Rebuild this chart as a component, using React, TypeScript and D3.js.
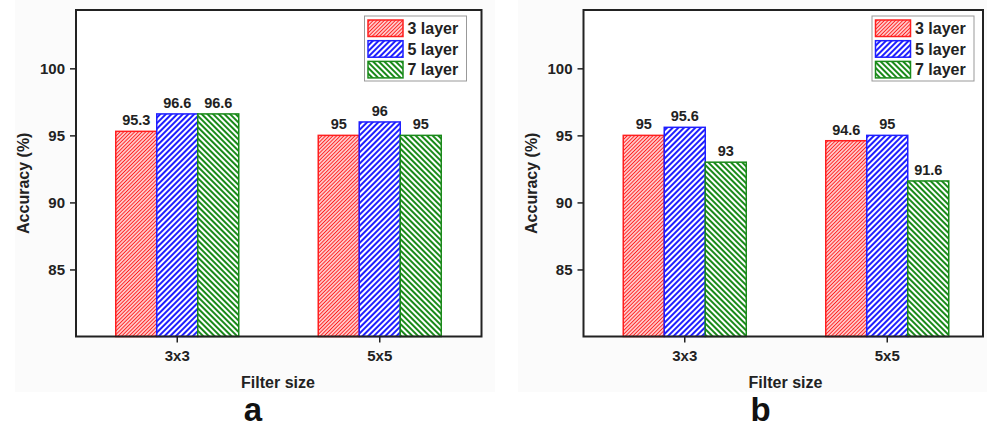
import React, { useEffect, useRef } from "react";
import * as d3 from "d3";

// filter sizes on x, one series per network depth
const categories = ["3x3", "5x5"];
const seriesNames = ["3 layer", "5 layer", "7 layer"];

// panel a
const accA3 = [95.3, 95];
const accA5 = [96.6, 96];
const accA7 = [96.6, 95];

// panel b
const accB3 = [95, 94.6];
const accB5 = [95.6, 95];
const accB7 = [93, 91.6];

const yTicks = [85, 90, 95, 100];
const panelLetters = ["a", "b"];

const colors = ["#ff1f1f", "#1f1fff", "#1a8a1a"];
const font = "'Liberation Sans', Arial, sans-serif";

const App: React.FC = () => {
  const svgRef = useRef<SVGSVGElement | null>(null);

  useEffect(() => {
    const width = 987;
    const height = 429;
    const svg = d3
      .select(svgRef.current)
      .attr("width", width)
      .attr("height", height)
      .attr("viewBox", [0, 0, width, height])
      .style("display", "block")
      .style("font-family", font);
    svg.selectAll("*").remove();

    const defs = svg.append("defs");
    // hatch patterns: red dense "/", blue wide "/", green wide "\"
    const hatch = [
      { id: "hatch0", size: 2.6, lw: 1.3, rot: 45 },
      { id: "hatch1", size: 4, lw: 2, rot: 45 },
      { id: "hatch2", size: 4, lw: 2, rot: -45 },
    ];
    hatch.forEach((h, i) => {
      const p = defs
        .append("pattern")
        .attr("id", h.id)
        .attr("patternUnits", "userSpaceOnUse")
        .attr("width", h.size)
        .attr("height", h.size)
        .attr("patternTransform", `rotate(${h.rot})`);
      p.append("rect").attr("width", h.size).attr("height", h.size).attr("fill", "#fff");
      p.append("line")
        .attr("x1", h.size / 2)
        .attr("x2", h.size / 2)
        .attr("y1", 0)
        .attr("y2", h.size)
        .attr("stroke", colors[i])
        .attr("stroke-width", h.lw);
    });

    const panels = [
      { left: 76, frameW: 405.5, bgX: 15, bgW: 480, data: [accA3, accA5, accA7] },
      { left: 583.5, frameW: 399.5, bgX: 518, bgW: 469, data: [accB3, accB5, accB7] },
    ];

    const top = 10;
    const bottom = 336.5;
    const y = d3.scaleLinear().domain([80, 104.35]).range([bottom, top]);

    panels.forEach((panel, pi) => {
      const g = svg.append("g");
      g.append("rect")
        .attr("x", panel.bgX)
        .attr("y", 0)
        .attr("width", panel.bgW)
        .attr("height", 392)
        .attr("fill", "#fbfbfb");

      const x = d3
        .scaleBand()
        .domain(categories)
        .range([panel.left, panel.left + 405])
        .padding(0);
      const inner = d3
        .scaleBand()
        .domain(seriesNames)
        .range([-61.5, 61.5])
        .padding(0);

      g.append("rect")
        .attr("x", panel.left)
        .attr("y", top)
        .attr("width", panel.frameW)
        .attr("height", bottom - top)
        .attr("fill", "#fff");

      // bars
      seriesNames.forEach((s, si) => {
        const vals = panel.data[si];
        const bars = g
          .append("g")
          .selectAll("g")
          .data(categories)
          .enter()
          .append("g");
        bars
          .append("rect")
          .attr("x", (c) => (x(c) as number) + x.bandwidth() / 2 + (inner(s) as number))
          .attr("y", (_, i) => y(vals[i]))
          .attr("width", inner.bandwidth())
          .attr("height", (_, i) => bottom - y(vals[i]))
          .attr("fill", `url(#hatch${si})`)
          .attr("stroke", colors[si])
          .attr("stroke-width", 1.5);
        bars
          .append("text")
          .attr("x", (c) => (x(c) as number) + x.bandwidth() / 2 + (inner(s) as number) + inner.bandwidth() / 2)
          .attr("y", (_, i) => y(vals[i]) - 6)
          .attr("text-anchor", "middle")
          .attr("font-size", 14.5)
          .attr("font-weight", "bold")
          .attr("fill", "#222")
          .text((_, i) => String(vals[i]));
      });

      // frame
      g.append("rect")
        .attr("x", panel.left)
        .attr("y", top)
        .attr("width", panel.frameW)
        .attr("height", bottom - top)
        .attr("fill", "none")
        .attr("stroke", "#222")
        .attr("stroke-width", 2);

      // y axis
      const gy = g
        .append("g")
        .attr("transform", `translate(${panel.left},0)`)
        .call(
          d3
            .axisLeft(y)
            .tickValues(yTicks)
            .tickSize(6)
            .tickPadding(5)
            .tickFormat(d3.format("d")),
        );
      gy.select(".domain").remove();
      gy.selectAll("line").attr("stroke", "#222").attr("stroke-width", 1.5);
      gy.selectAll("text")
        .attr("font-size", 15)
        .attr("font-weight", "bold")
        .attr("font-family", font)
        .attr("fill", "#222");

      // x axis
      const gx = g
        .append("g")
        .attr("transform", `translate(0,${bottom})`)
        .call(d3.axisBottom(x).tickSize(6).tickPadding(8));
      gx.select(".domain").remove();
      gx.selectAll("line").attr("stroke", "#222").attr("stroke-width", 1.5);
      gx.selectAll("text")
        .attr("font-size", 15)
        .attr("font-weight", "bold")
        .attr("font-family", font)
        .attr("fill", "#222");

      // axis titles
      g.append("text")
        .attr("transform", `translate(${panel.left - 47},${(top + bottom) / 2 + 10}) rotate(-90)`)
        .attr("text-anchor", "middle")
        .attr("font-size", 16)
        .attr("font-weight", "bold")
        .attr("fill", "#222")
        .text("Accuracy (%)");
      g.append("text")
        .attr("x", panel.left + 202)
        .attr("y", 388)
        .attr("text-anchor", "middle")
        .attr("font-size", 16)
        .attr("font-weight", "bold")
        .attr("fill", "#222")
        .text("Filter size");
      g.append("text")
        .attr("x", panel.left + 177)
        .attr("y", 421)
        .attr("text-anchor", "middle")
        .attr("font-size", 33)
        .attr("font-weight", "bold")
        .attr("fill", "#111")
        .text(panelLetters[pi]);

      // legend
      const lg = g.append("g").attr("transform", `translate(${panel.left + 288.5},16)`);
      lg.append("rect")
        .attr("width", 102)
        .attr("height", 65)
        .attr("fill", "#fff")
        .attr("stroke", "#999")
        .attr("stroke-width", 1);
      seriesNames.forEach((s, si) => {
        const row = lg.append("g").attr("transform", `translate(0,${4 + si * 20.7})`);
        row.append("rect")
          .attr("x", 3.5)
          .attr("y", 0)
          .attr("width", 35)
          .attr("height", 16.5)
          .attr("fill", `url(#hatch${si})`)
          .attr("stroke", colors[si])
          .attr("stroke-width", 1.5);
        row.append("text")
          .attr("x", 43)
          .attr("y", 14)
          .attr("font-size", 16)
          .attr("font-weight", "bold")
          .attr("fill", "#222")
          .text(s);
      });
    });
  }, []);

  return (
    <div style={{ position: "absolute", left: 0, top: 0 }}>
      <svg ref={svgRef}></svg>
    </div>
  );
};

export default App;
